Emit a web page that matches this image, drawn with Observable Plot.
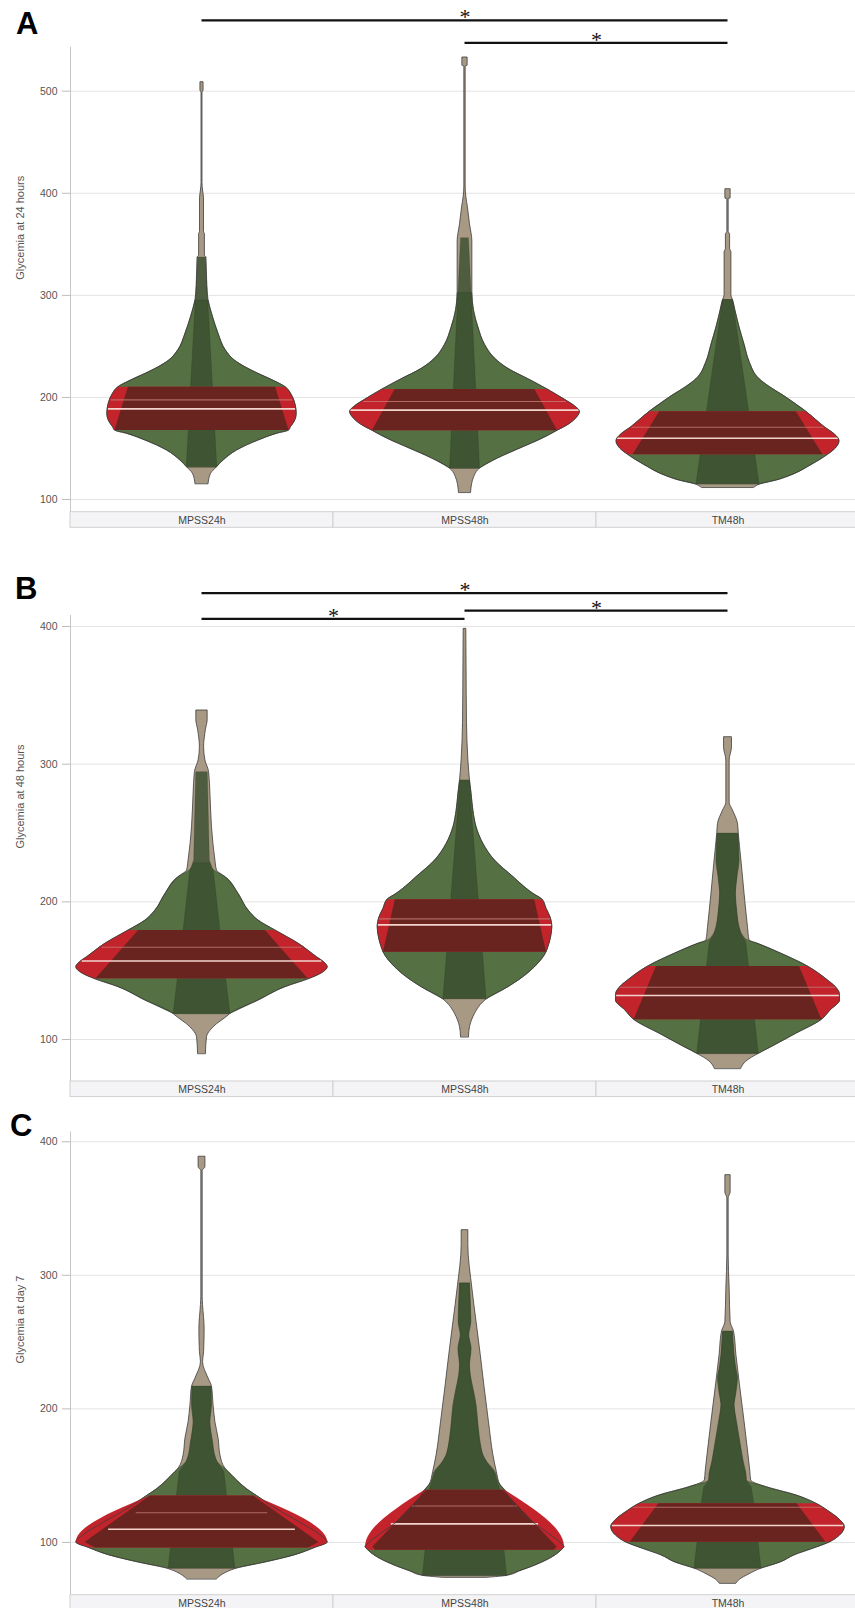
<!DOCTYPE html>
<html>
<head>
<meta charset="utf-8">
<script src="https://cdn.jsdelivr.net/npm/d3@7"></script>
<script src="https://cdn.jsdelivr.net/npm/@observablehq/plot@0.6"></script>
<style>
  html, body { margin: 0; padding: 0; background: #fff; }
  body { width: 855px; height: 1608px; overflow: hidden; position: relative; font-family: "Liberation Sans", Arial, sans-serif; }
  .panel { position: absolute; left: 0; }
  .letter { position: absolute; font: bold 31px/31px "Liberation Sans", Arial, sans-serif; color: #000; }
</style>
</head>
<body>
<div id="root"></div>
<script>
const groups = ["MPSS24h", "MPSS48h", "TM48h"];

// keep the read points of a profile that lie between lo and hi
function within(p, lo, hi) { return p.filter(([v]) => v >= lo && v <= hi); }

// ---------------- Panel A : Glycemia at 24 hours ----------------
const A_yLabel = "Glycemia at 24 hours";
const A_ticks = [100, 200, 300, 400, 500];
const A_q1 = [167.6, 167.4, 143.8];
const A_q3 = [210.0, 207.8, 185.9];
const A_median = [188.8, 187.6, 160.0];
const A_mean = [197.6, 196.0, 170.8];
const A_medianW = [0.356, 0.435, 0.42];
const A_meanW = [0.345, 0.385, 0.365];
// [glycemia, half width of the violin]
const A_outer = [
  [[115.3,0.025],[125,0.034],[131.6,0.057],[138.2,0.082],[148,0.133],[157.8,0.215],[164.3,0.284],[167.6,0.331],[170.8,0.338],[176,0.352],[183.9,0.36],[190,0.358],[196.9,0.351],[203,0.34],[210,0.318],[216.5,0.271],[223.1,0.215],[229.6,0.165],[236.1,0.125],[245.9,0.091],[262.3,0.063],[278.6,0.042],[294.9,0.025],[310,0.02],[337,0.017],[339,0.011],[360,0.011],[362,0.0076],[395,0.0076],[402.7,0.004],[410,0.0019],[499,0.0019],[500,0.006],[508.8,0.006]],
  [[106.7,0.023],[115,0.027],[122,0.035],[128.6,0.05],[130.3,0.057],[140.4,0.127],[150.5,0.215],[159,0.29],[167.4,0.352],[174.1,0.399],[180,0.425],[185.9,0.437],[191,0.42],[197.7,0.38],[207.8,0.314],[217.9,0.241],[228,0.165],[238.1,0.114],[251.6,0.076],[268.5,0.051],[285.3,0.034],[302.2,0.028],[352.7,0.028],[369.6,0.019],[386.4,0.011],[396.5,0.005],[406.7,0.0025],[524,0.0025],[525,0.01],[533,0.01]],
  [[111.5,0.1],[115,0.125],[119,0.19],[123.6,0.241],[133.7,0.317],[143.8,0.38],[150,0.41],[157.3,0.424],[164,0.405],[170.8,0.368],[178,0.335],[185.9,0.298],[193,0.26],[201.1,0.215],[210,0.16],[217.9,0.12],[234.8,0.082],[251.6,0.063],[268.5,0.044],[285.3,0.028],[295.4,0.019],[300,0.013],[342.6,0.013],[345,0.008],[359.5,0.008],[362,0.0025],[394.5,0.0025],[395,0.01],[404,0.01]]
];
const A_green = [within(A_outer[0], 131.6, 302), within(A_outer[1], 130.3, 302.2), within(A_outer[2], 115, 295.4)];
const A_band = [
  [[131.6,0.058],[337,0.015]],
  [[130.3,0.057],[356,0.015]],
  [[115,0.12],[295.4,0.019]]
];
const A_redBright = groups.map((g, i) => within(A_outer[i], A_q1[i], A_q3[i]));
const A_redDark = [
  [[167.6,0.331],[210,0.28]],
  [[167.4,0.352],[207.8,0.266]],
  [[143.8,0.361],[185.9,0.26]]
];
const A_brackets = [
  {a: "MPSS24h", b: "TM48h", level: 569.3},
  {a: "MPSS48h", b: "TM48h", level: 547.4}
];

// ---------------- Panel B : Glycemia at 48 hours ----------------
const B_yLabel = "Glycemia at 48 hours";
const B_ticks = [100, 200, 300, 400];
const B_q1 = [144.1, 163.4, 114.3];
const B_q3 = [179.2, 201.5, 153.0];
const B_median = [157.0, 183.3, 132.0];
const B_mean = [167.0, 187.6, 138.0];
const B_medianW = [0.456, 0.33, 0.425];
const B_meanW = [0.38, 0.326, 0.41];
const B_outer = [
  [[89.6,0.015],[101.7,0.019],[108.9,0.044],[117.4,0.101],[118.6,0.108],[128.3,0.215],[138,0.317],[144.1,0.41],[148,0.455],[152.5,0.478],[156,0.465],[159.8,0.437],[169.5,0.368],[179.2,0.279],[186.4,0.215],[193.7,0.177],[205.8,0.139],[218,0.089],[222.8,0.057],[230,0.051],[254.2,0.038],[278.5,0.032],[294.2,0.027],[302.7,0.013],[312.3,0.008],[325,0.015],[332,0.0215],[339,0.0215]],
  [[101.7,0.015],[109,0.019],[118.6,0.038],[125,0.06],[129.5,0.085],[138,0.165],[145,0.22],[152.5,0.266],[163.4,0.31],[167,0.317],[174,0.327],[181.6,0.332],[188.9,0.325],[195,0.31],[201.5,0.295],[205.8,0.26],[211,0.225],[218,0.184],[230,0.114],[242.1,0.07],[254.2,0.044],[266,0.032],[278.5,0.025],[288,0.019],[302.7,0.013],[330,0.0076],[370,0.006],[398.3,0.005]],
  [[78.7,0.05],[84,0.07],[89.6,0.117],[94.4,0.165],[104.1,0.259],[114.3,0.357],[121.1,0.39],[128.4,0.426],[133.2,0.425],[138,0.41],[142.9,0.38],[153,0.304],[162.3,0.203],[169.5,0.114],[172,0.082],[181.6,0.076],[205.8,0.063],[230,0.051],[249.4,0.041],[256.7,0.038],[266.3,0.019],[272,0.0063],[302.7,0.0063],[312,0.015],[319.6,0.015]]
];
const B_green = [
  [...within(B_outer[0], 118.6, 218), [223,0.045], [228,0.03]],
  within(B_outer[1], 129.5, 288),
  [[89.6,0.117],[94.4,0.165],[104.1,0.259],[114.3,0.357],[121.1,0.39],[128.4,0.426],[133.2,0.425],[138,0.41],[142.9,0.38],[153,0.304],[162.3,0.203],[169.5,0.114],[172,0.076],[176,0.055],[181.6,0.044],[193,0.035],[205.8,0.03],[218,0.036],[230,0.044],[249.4,0.04]]
];
const B_band = [
  [[118.6,0.108],[179.2,0.07],[222,0.045],[230,0.03],[294.2,0.022]],
  [[129.5,0.082],[288,0.017]],
  [[89.6,0.117],[153,0.08],[169.5,0.07],[172,0.066],[176,0.052],[181.6,0.042],[193,0.034],[205.8,0.029],[218,0.035],[230,0.042],[249.4,0.038]]
];
const B_redBright = groups.map((g, i) => within(B_outer[i], B_q1[i], B_q3[i]));
const B_redDark = [
  [[144.1,0.403],[179.2,0.241]],
  [[163.4,0.31],[201.5,0.265]],
  [[114.3,0.357],[153,0.272]]
];
const B_brackets = [
  {a: "MPSS24h", b: "TM48h", level: 424.2},
  {a: "MPSS48h", b: "TM48h", level: 411.6},
  {a: "MPSS24h", b: "MPSS48h", level: 405.6}
];

// ---------------- Panel C : Glycemia at day 7 ----------------
const C_yLabel = "Glycemia at day 7";
const C_ticks = [100, 200, 300, 400];
const C_q1 = [95.9, 94.1, 100.2];
const C_q3 = [134.8, 139.1, 129.0];
const C_median = [109.9, 113.9, 112.7];
const C_mean = [122.2, 127.3, 126.4];
const C_medianW = [0.355, 0.28, 0.44];
const C_meanW = [0.25, 0.2, 0.36];
const C_outer = [
  [[72.4,0.057],[76,0.08],[80.4,0.133],[85.5,0.253],[90.5,0.355],[95.9,0.43],[100,0.478],[104,0.46],[108,0.431],[115.5,0.367],[125.5,0.279],[134.8,0.209],[140,0.17],[145.3,0.139],[152.8,0.101],[155.3,0.089],[165.3,0.07],[177.8,0.063],[190,0.051],[202.7,0.044],[216.5,0.038],[222.7,0.025],[235,0.004],[242.7,0.008],[260,0.01],[277.7,0.004],[284,0.0025],[378,0.0025],[381,0.013],[388.8,0.013]],
  [[73.5,0.085],[75,0.16],[78.5,0.21],[82.9,0.27],[90.4,0.345],[94.1,0.368],[96.6,0.378],[100,0.362],[105.4,0.326],[115.4,0.256],[127.8,0.186],[139.1,0.152],[142.8,0.135],[152.8,0.121],[165.3,0.108],[190.3,0.091],[215.2,0.075],[240.2,0.06],[265,0.044],[290.1,0.028],[322.6,0.0127],[333.8,0.0127]],
  [[69.2,0.032],[72,0.045],[76,0.08],[80.4,0.127],[85,0.2],[90.4,0.254],[95,0.32],[100.2,0.389],[105,0.425],[111.4,0.444],[117.9,0.42],[123,0.385],[129,0.336],[135.2,0.26],[141.4,0.146],[146.4,0.088],[152.8,0.085],[165.3,0.078],[190.3,0.063],[240.2,0.032],[257.7,0.023],[265,0.01],[290,0.0063],[315,0.0025],[357.6,0.0025],[362,0.01],[375,0.01]]
];
const C_green = [
  [[80.4,0.127],[85.5,0.253],[90.5,0.355],[95.9,0.43],[100,0.478],[104,0.46],[108,0.431],[115.5,0.367],[125.5,0.279],[134.8,0.209],[140,0.17],[145.3,0.139],[152.8,0.101],[160,0.06],[165.3,0.05],[175,0.042],[190,0.032],[202.7,0.038],[216.5,0.037]],
  [[75,0.16],[78.5,0.21],[82.9,0.27],[90.4,0.345],[94.1,0.368],[96.6,0.378],[100,0.362],[105.4,0.326],[115.4,0.256],[127.8,0.186],[139.1,0.152],[145,0.128],[152.8,0.115],[160,0.085],[165.3,0.07],[177.8,0.057],[190.3,0.05],[202.7,0.044],[215.2,0.032],[225,0.022],[232.7,0.019],[245,0.025],[255,0.016],[265,0.024],[280,0.022],[293.9,0.019]],
  [[80.4,0.127],[85,0.2],[90.4,0.254],[95,0.32],[100.2,0.389],[105,0.425],[111.4,0.444],[117.9,0.42],[123,0.385],[129,0.336],[135.2,0.26],[141.4,0.146],[146.4,0.072],[151.4,0.07],[160,0.06],[171.4,0.05],[190.3,0.034],[202.7,0.025],[212,0.032],[222.7,0.038],[232,0.03],[240.2,0.025],[257.7,0.019]]
];
const C_band = [
  [[80.4,0.127],[152.8,0.085],[160,0.058],[165.3,0.048],[175,0.04],[190,0.03],[202.7,0.036],[216.5,0.035]],
  [[75,0.16],[94.1,0.15],[139.1,0.135],[145,0.124],[152.8,0.112],[160,0.083],[165.3,0.068],[177.8,0.055],[190.3,0.048],[202.7,0.042],[215.2,0.03],[225,0.021],[232.7,0.018],[245,0.024],[255,0.015],[265,0.023],[280,0.021],[293.9,0.018]],
  [[80.4,0.127],[129,0.1],[141.4,0.09],[146.4,0.07],[151.4,0.068],[160,0.058],[171.4,0.048],[190.3,0.032],[202.7,0.024],[212,0.031],[222.7,0.036],[232,0.029],[240.2,0.024],[257.7,0.018]]
];
const C_redBright = [
  [[95.9,0.425],[100,0.478],[134.8,0.196]],
  [[94.1,0.365],[96.6,0.378],[139.1,0.152]],
  within(C_outer[2], C_q1[2], C_q3[2])
];
const C_redDark = [
  [[95.9,0.405],[100,0.445],[134.8,0.196]],
  [[94.1,0.34],[96.6,0.35],[139.1,0.145]],
  [[100.2,0.372],[129,0.263]]
];
const C_brackets = [];

// ---------------- drawing ----------------
const COLORS = {
  tan: "#a89984", green: "#557043", band: "#3a4e30", bright: "#c3242c", dark: "#6a2420",
  outline: "#3c3c3c", median: "#f3d3cc", mean: "#c47a74", grid: "#e4e4e4", axis: "#c6c6c6",
  strip: "#f4f4f6", stripLine: "#d0d0d0", text: "#555"
};

function toRows(arrs) { return arrs.flatMap((pts, g) => pts.map(([v, w]) => ({g, v, w}))); }
const X1 = d => d.g - d.w, X2 = d => d.g + d.w;

function panel(cfg) {
  const y0 = cfg.domain[0];
  const med = groups.map((_, g) => ({g, v: cfg.median[g], w: cfg.medianW[g]}));
  const mean = groups.map((_, g) => ({g, v: cfg.mean[g], w: cfg.meanW[g]}));
  const br = cfg.brackets.map(b => ({a: groups.indexOf(b.a), b: groups.indexOf(b.b), level: b.level}));
  return Plot.plot({
    width: 855, height: cfg.height,
    marginLeft: 70, marginRight: 0, marginTop: cfg.mt, marginBottom: cfg.mb,
    x: {domain: [-0.5, 2.5], range: [70, 859], axis: null},
    y: {domain: cfg.domain, axis: null},
    style: {fontFamily: "Liberation Sans, Arial, sans-serif", color: COLORS.text, background: "transparent", overflow: "visible"},
    marks: [
      Plot.gridY(cfg.ticks, {stroke: COLORS.grid, strokeOpacity: 1}),
      Plot.ruleX([-0.5], {stroke: COLORS.axis}),
      Plot.rect(groups, {x1: (d, i) => i - 0.5, x2: (d, i) => i + 0.5, y1: () => y0, y2: () => y0, insetBottom: -15.6, fill: COLORS.strip, stroke: COLORS.stripLine}),
      Plot.text(groups, {x: (d, i) => i, y: () => y0, dy: 8, text: d => d, fontSize: 10.5, fill: "#444"}),
      Plot.axisY(cfg.ticks, {tickSize: 8, tickPadding: 5, stroke: "#bdbdbd", fill: COLORS.text, fontSize: 10.5, label: null}),
      Plot.text([cfg.label], {frameAnchor: "left", rotate: -90, dx: -50, fontSize: 11, fill: COLORS.text}),
      // violins
      Plot.areaX(toRows(cfg.outer), {y: "v", x1: X1, x2: X2, z: "g", fill: COLORS.tan, curve: "monotone-y"}),
      Plot.areaX(toRows(cfg.green), {y: "v", x1: X1, x2: X2, z: "g", fill: COLORS.green, stroke: "#2c3826", strokeWidth: 0.7, strokeOpacity: 0.7, curve: "monotone-y"}),
      Plot.areaX(toRows(cfg.band), {y: "v", x1: X1, x2: X2, z: "g", fill: COLORS.band, fillOpacity: 0.82, stroke: "#1e261a", strokeWidth: 0.5, strokeOpacity: 0.35}),
      Plot.areaX(toRows(cfg.redBright), {y: "v", x1: X1, x2: X2, z: "g", fill: COLORS.bright, curve: "monotone-y"}),
      Plot.areaX(toRows(cfg.redDark), {y: "v", x1: X1, x2: X2, z: "g", fill: COLORS.dark}),
      Plot.ruleY(mean, {y: "v", x1: X1, x2: X2, stroke: COLORS.mean, strokeWidth: 1.1, strokeOpacity: 0.8}),
      Plot.ruleY(med, {y: "v", x1: X1, x2: X2, stroke: COLORS.median, strokeWidth: 1.6}),
      Plot.areaX(toRows(cfg.outer), {y: "v", x1: X1, x2: X2, z: "g", fill: "none", stroke: COLORS.outline, strokeWidth: 0.8, curve: "monotone-y"}),
      // significance brackets
      Plot.ruleY(br, {y: "level", x1: "a", x2: "b", stroke: "#111", strokeWidth: 2.2}),
      Plot.text(br, {x: d => (d.a + d.b) / 2, y: "level", text: () => "*", fontSize: 22, fontFamily: "Liberation Serif, Times New Roman, serif", fill: "#111", lineAnchor: "bottom", dy: 4})
    ]
  });
}

const panels = [
  {letter: "A", top: 0, height: 540, mt: 46.7, mb: 28.3, domain: [87.6, 543.1], letterPos: [16, 8],
   ticks: A_ticks, label: A_yLabel, outer: A_outer, green: A_green, band: A_band, redBright: A_redBright, redDark: A_redDark,
   median: A_median, mean: A_mean, medianW: A_medianW, meanW: A_meanW, brackets: A_brackets},
  {letter: "B", top: 540, height: 560, mt: 75, mb: 19, domain: [69.5, 408], letterPos: [15, 573],
   ticks: B_ticks, label: B_yLabel, outer: B_outer, green: B_green, band: B_band, redBright: B_redBright, redDark: B_redDark,
   median: B_median, mean: B_mean, medianW: B_medianW, meanW: B_meanW, brackets: B_brackets},
  {letter: "C", top: 1100, height: 520, mt: 31.5, mb: 25.3, domain: [60.5, 407.3], letterPos: [10, 1109.5],
   ticks: C_ticks, label: C_yLabel, outer: C_outer, green: C_green, band: C_band, redBright: C_redBright, redDark: C_redDark,
   median: C_median, mean: C_mean, medianW: C_medianW, meanW: C_meanW, brackets: C_brackets}
];

const root = document.getElementById("root");
for (const p of panels) {
  const wrap = document.createElement("div");
  wrap.className = "panel";
  wrap.style.top = p.top + "px";
  wrap.appendChild(panel(p));
  root.appendChild(wrap);
  const lab = document.createElement("div");
  lab.className = "letter";
  lab.textContent = p.letter;
  lab.style.left = p.letterPos[0] + "px";
  lab.style.top = p.letterPos[1] + "px";
  root.appendChild(lab);
}
</script>
</body>
</html>
